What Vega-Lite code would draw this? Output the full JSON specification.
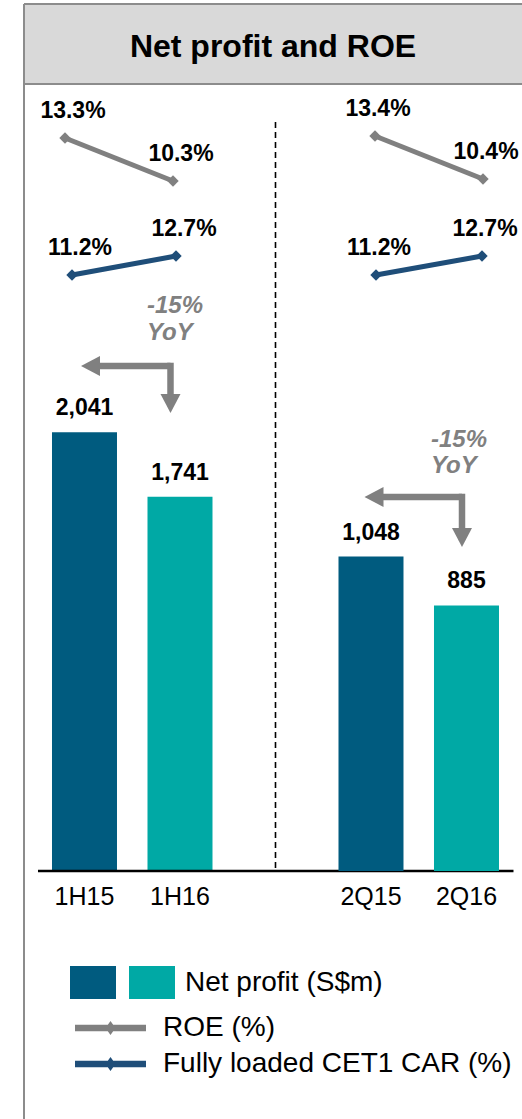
{
  "$schema": "https://vega.github.io/schema/vega-lite/v6.json",
  "padding": {"left": 24, "top": 4, "right": 0, "bottom": 0},
  "spacing": 0,
  "bounds": "flush",
  "config": {"font": "Liberation Sans", "view": {"stroke": null}},
  "data": {"values": [
    {"period": "1H15", "half": "1H", "year": "2015", "net_profit": 2041, "roe": 0.133, "cet1": 0.112, "yoy": null},
    {"period": "1H16", "half": "1H", "year": "2016", "net_profit": 1741, "roe": 0.103, "cet1": 0.127, "yoy": "-15%"},
    {"period": "2Q15", "half": "2Q", "year": "2015", "net_profit": 1048, "roe": 0.134, "cet1": 0.112, "yoy": null},
    {"period": "2Q16", "half": "2Q", "year": "2016", "net_profit": 885, "roe": 0.104, "cet1": 0.127, "yoy": "-15%"}
  ]},
  "vconcat": [
    {
      "width": 498, "height": 80,
      "view": {"fill": "#d9d9d9", "stroke": null},
      "data": {"values": [{"title": "Net profit and ROE"}]},
      "mark": {"type": "text", "fontSize": 32, "fontWeight": "bold", "color": "#000000", "align": "center", "baseline": "alphabetic", "dy": 13},
      "encoding": {
        "text": {"field": "title", "type": "nominal"},
        "x": {"datum": 0.5, "type": "quantitative", "scale": {"domain": [0, 1], "nice": false, "zero": false}, "axis": {"orient": "top", "domain": true, "domainColor": "#8c8c8c", "domainWidth": 2, "ticks": false, "labels": false, "grid": false, "title": null, "translate": 0}},
        "y": {"datum": 0.5, "type": "quantitative", "scale": {"domain": [0, 1], "nice": false, "zero": false}, "axis": {"orient": "left", "domain": true, "domainColor": "#8c8c8c", "domainWidth": 2, "ticks": false, "labels": false, "grid": false, "title": null, "translate": 0}}
      }
    },
    {
      "width": 498, "height": 1035,
      "resolve": {"scale": {"x": "independent", "y": "independent"}},
      "layer": [
        {
          "transform": [{"filter": "datum.half == '1H'"}],
          "layer": [
            {"mark": {"type": "bar"},
             "encoding": {
               "x": {"field": "period", "type": "nominal", "scale": {"type": "band", "domain": ["1H15", "1H16", "gap", "2Q15", "2Q16"], "paddingInner": 0.31937, "paddingOuter": 0.26702, "align": 0.5489}, "axis": {"orient": "top", "domain": true, "domainColor": "#8c8c8c", "domainWidth": 2, "ticks": false, "labels": false, "grid": false, "title": null, "translate": 0}},
               "y": {"field": "net_profit", "type": "quantitative", "scale": {"domain": [-1153.5, 3660.5], "nice": false, "zero": false}, "axis": {"orient": "left", "domain": true, "domainColor": "#8c8c8c", "domainWidth": 2, "ticks": false, "labels": false, "grid": false, "title": null, "translate": 0}},
               "y2": {"datum": 0},
               "color": {"field": "year", "type": "nominal", "scale": {"domain": ["2015", "2016"], "range": ["#005b7f", "#00a9a5"]},
                 "legend": {"orient": "none", "legendX": 46, "legendY": 955.5, "title": null, "direction": "horizontal", "symbolType": "M-1,-0.717H1V0.717H-1Z", "symbolSize": 2116, "symbolStrokeWidth": 0, "symbolOpacity": 1, "labelExpr": "datum.label == '2016' ? 'Net profit (S$m)' : ''", "labelFont": "Liberation Sans", "labelFontSize": 28, "labelColor": "#000000", "labelOffset": 10, "labelLimit": 500, "columnPadding": 3, "gridAlign": "none", "padding": 0, "offset": 0}}
             }},
            {"mark": {"type": "text", "fontSize": 23, "fontWeight": "bold", "color": "#000000", "baseline": "alphabetic", "dy": -17},
             "encoding": {
               "x": {"field": "period", "type": "nominal", "scale": {"type": "band", "domain": ["1H15", "1H16", "gap", "2Q15", "2Q16"], "paddingInner": 0.31937, "paddingOuter": 0.26702, "align": 0.5489}, "axis": {"orient": "top", "domain": true, "domainColor": "#8c8c8c", "domainWidth": 2, "ticks": false, "labels": false, "grid": false, "title": null, "translate": 0}},
               "y": {"field": "net_profit", "type": "quantitative", "scale": {"domain": [-1153.5, 3660.5], "nice": false, "zero": false}, "axis": {"orient": "left", "domain": true, "domainColor": "#8c8c8c", "domainWidth": 2, "ticks": false, "labels": false, "grid": false, "title": null, "translate": 0}},
               "text": {"field": "net_profit", "type": "quantitative", "format": ","}
             }},
            {"mark": {"type": "text", "fontSize": 25, "color": "#000000", "baseline": "alphabetic", "dy": 34},
             "encoding": {
               "x": {"field": "period", "type": "nominal", "scale": {"type": "band", "domain": ["1H15", "1H16", "gap", "2Q15", "2Q16"], "paddingInner": 0.31937, "paddingOuter": 0.26702, "align": 0.5489}, "axis": {"orient": "top", "domain": true, "domainColor": "#8c8c8c", "domainWidth": 2, "ticks": false, "labels": false, "grid": false, "title": null, "translate": 0}},
               "y": {"datum": 0, "type": "quantitative", "scale": {"domain": [-1153.5, 3660.5], "nice": false, "zero": false}, "axis": {"orient": "left", "domain": true, "domainColor": "#8c8c8c", "domainWidth": 2, "ticks": false, "labels": false, "grid": false, "title": null, "translate": 0}},
               "text": {"field": "period", "type": "nominal"}
             }},
            {"transform": [{"filter": "datum.year == '2015'"}],
             "mark": {"type": "rule", "color": "#000000", "strokeWidth": 2.7, "xOffset": -46.5, "x2Offset": 47},
             "encoding": {
               "x": {"datum": "1H15", "type": "nominal", "scale": {"type": "band", "domain": ["1H15", "1H16", "gap", "2Q15", "2Q16"], "paddingInner": 0.31937, "paddingOuter": 0.26702, "align": 0.5489}, "axis": {"orient": "top", "domain": true, "domainColor": "#8c8c8c", "domainWidth": 2, "ticks": false, "labels": false, "grid": false, "title": null, "translate": 0}},
               "x2": {"datum": "2Q16"},
               "y": {"datum": 0, "type": "quantitative", "scale": {"domain": [-1153.5, 3660.5], "nice": false, "zero": false}, "axis": {"orient": "left", "domain": true, "domainColor": "#8c8c8c", "domainWidth": 2, "ticks": false, "labels": false, "grid": false, "title": null, "translate": 0}}
             }},
            {"transform": [{"filter": "datum.year == '2015'"}],
             "mark": {"type": "rule", "color": "#000000", "strokeWidth": 1.6, "strokeDash": [6, 4]},
             "encoding": {
               "x": {"datum": "gap", "type": "nominal", "scale": {"type": "band", "domain": ["1H15", "1H16", "gap", "2Q15", "2Q16"], "paddingInner": 0.31937, "paddingOuter": 0.26702, "align": 0.5489}, "axis": {"orient": "top", "domain": true, "domainColor": "#8c8c8c", "domainWidth": 2, "ticks": false, "labels": false, "grid": false, "title": null, "translate": 0}},
               "y": {"datum": 3484, "type": "quantitative", "scale": {"domain": [-1153.5, 3660.5], "nice": false, "zero": false}, "axis": {"orient": "left", "domain": true, "domainColor": "#8c8c8c", "domainWidth": 2, "ticks": false, "labels": false, "grid": false, "title": null, "translate": 0}},
               "y2": {"datum": 14}
             }},
            {"transform": [{"filter": "datum.year == '2015'"}],
             "mark": {"type": "rule", "color": "#808080", "strokeWidth": 6.5, "xOffset": 10, "x2Offset": -9.5},
             "encoding": {
               "x": {"datum": "1H15", "type": "nominal", "scale": {"type": "band", "domain": ["1H15", "1H16", "gap", "2Q15", "2Q16"], "paddingInner": 0.31937, "paddingOuter": 0.26702, "align": 0.5489}, "axis": {"orient": "top", "domain": true, "domainColor": "#8c8c8c", "domainWidth": 2, "ticks": false, "labels": false, "grid": false, "title": null, "translate": 0}},
               "x2": {"datum": "1H16"},
               "y": {"datum": 2349, "type": "quantitative", "scale": {"domain": [-1153.5, 3660.5], "nice": false, "zero": false}, "axis": {"orient": "left", "domain": true, "domainColor": "#8c8c8c", "domainWidth": 2, "ticks": false, "labels": false, "grid": false, "title": null, "translate": 0}}
             }},
            {"transform": [{"filter": "datum.year == '2015'"}],
             "mark": {"type": "rule", "color": "#808080", "strokeWidth": 6.5, "strokeCap": "square", "xOffset": -9.5},
             "encoding": {
               "x": {"datum": "1H16", "type": "nominal", "scale": {"type": "band", "domain": ["1H15", "1H16", "gap", "2Q15", "2Q16"], "paddingInner": 0.31937, "paddingOuter": 0.26702, "align": 0.5489}, "axis": {"orient": "top", "domain": true, "domainColor": "#8c8c8c", "domainWidth": 2, "ticks": false, "labels": false, "grid": false, "title": null, "translate": 0}},
               "y": {"datum": 2349, "type": "quantitative", "scale": {"domain": [-1153.5, 3660.5], "nice": false, "zero": false}, "axis": {"orient": "left", "domain": true, "domainColor": "#8c8c8c", "domainWidth": 2, "ticks": false, "labels": false, "grid": false, "title": null, "translate": 0}},
               "y2": {"datum": 2177}
             }},
            {"transform": [{"filter": "datum.year == '2015'"}],
             "mark": {"type": "point", "filled": true, "color": "#808080", "opacity": 1, "size": 400, "shape": "M-0.35,0L1.55,-1L1.55,1Z"},
             "encoding": {
               "x": {"datum": "1H15", "type": "nominal", "scale": {"type": "band", "domain": ["1H15", "1H16", "gap", "2Q15", "2Q16"], "paddingInner": 0.31937, "paddingOuter": 0.26702, "align": 0.5489}, "axis": {"orient": "top", "domain": true, "domainColor": "#8c8c8c", "domainWidth": 2, "ticks": false, "labels": false, "grid": false, "title": null, "translate": 0}},
               "y": {"datum": 2349, "type": "quantitative", "scale": {"domain": [-1153.5, 3660.5], "nice": false, "zero": false}, "axis": {"orient": "left", "domain": true, "domainColor": "#8c8c8c", "domainWidth": 2, "ticks": false, "labels": false, "grid": false, "title": null, "translate": 0}}
             }},
            {"transform": [{"filter": "datum.year == '2015'"}],
             "mark": {"type": "point", "filled": true, "color": "#808080", "opacity": 1, "size": 400, "shape": "M0,1L-1,-0.9L1,-0.9Z", "xOffset": -9.5},
             "encoding": {
               "x": {"datum": "1H16", "type": "nominal", "scale": {"type": "band", "domain": ["1H15", "1H16", "gap", "2Q15", "2Q16"], "paddingInner": 0.31937, "paddingOuter": 0.26702, "align": 0.5489}, "axis": {"orient": "top", "domain": true, "domainColor": "#8c8c8c", "domainWidth": 2, "ticks": false, "labels": false, "grid": false, "title": null, "translate": 0}},
               "y": {"datum": 2177, "type": "quantitative", "scale": {"domain": [-1153.5, 3660.5], "nice": false, "zero": false}, "axis": {"orient": "left", "domain": true, "domainColor": "#8c8c8c", "domainWidth": 2, "ticks": false, "labels": false, "grid": false, "title": null, "translate": 0}}
             }},
            {"transform": [{"filter": "datum.yoy != null"}],
             "mark": {"type": "text", "fontSize": 24, "fontWeight": "bold", "fontStyle": "italic", "color": "#808080", "align": "left", "baseline": "alphabetic", "dx": -33},
             "encoding": {
               "x": {"field": "period", "type": "nominal", "scale": {"type": "band", "domain": ["1H15", "1H16", "gap", "2Q15", "2Q16"], "paddingInner": 0.31937, "paddingOuter": 0.26702, "align": 0.5489}, "axis": {"orient": "top", "domain": true, "domainColor": "#8c8c8c", "domainWidth": 2, "ticks": false, "labels": false, "grid": false, "title": null, "translate": 0}},
               "y": {"datum": 2595, "type": "quantitative", "scale": {"domain": [-1153.5, 3660.5], "nice": false, "zero": false}, "axis": {"orient": "left", "domain": true, "domainColor": "#8c8c8c", "domainWidth": 2, "ticks": false, "labels": false, "grid": false, "title": null, "translate": 0}},
               "text": {"field": "yoy", "type": "nominal"}
             }},
            {"transform": [{"filter": "datum.yoy != null"}],
             "mark": {"type": "text", "text": "YoY", "fontSize": 24, "fontWeight": "bold", "fontStyle": "italic", "color": "#808080", "align": "left", "baseline": "alphabetic", "dx": -33, "dy": 27},
             "encoding": {
               "x": {"field": "period", "type": "nominal", "scale": {"type": "band", "domain": ["1H15", "1H16", "gap", "2Q15", "2Q16"], "paddingInner": 0.31937, "paddingOuter": 0.26702, "align": 0.5489}, "axis": {"orient": "top", "domain": true, "domainColor": "#8c8c8c", "domainWidth": 2, "ticks": false, "labels": false, "grid": false, "title": null, "translate": 0}},
               "y": {"datum": 2595, "type": "quantitative", "scale": {"domain": [-1153.5, 3660.5], "nice": false, "zero": false}, "axis": {"orient": "left", "domain": true, "domainColor": "#8c8c8c", "domainWidth": 2, "ticks": false, "labels": false, "grid": false, "title": null, "translate": 0}}
             }}
          ]
        },
        {
          "transform": [{"filter": "datum.half == '2Q'"}],
          "layer": [
            {"mark": {"type": "bar"},
             "encoding": {
               "x": {"field": "period", "type": "nominal", "scale": {"type": "band", "domain": ["1H15", "1H16", "gap", "2Q15", "2Q16"], "paddingInner": 0.31937, "paddingOuter": 0.26702, "align": 0.5489}, "axis": null},
               "y": {"field": "net_profit", "type": "quantitative", "scale": {"domain": [-826.7, 2623.3], "nice": false, "zero": false}, "axis": null},
               "y2": {"datum": 0},
               "color": {"field": "year", "type": "nominal", "scale": {"domain": ["2015", "2016"], "range": ["#005b7f", "#00a9a5"]},
                 "legend": {"orient": "none", "legendX": 46, "legendY": 955.5, "title": null, "direction": "horizontal", "symbolType": "M-1,-0.717H1V0.717H-1Z", "symbolSize": 2116, "symbolStrokeWidth": 0, "symbolOpacity": 1, "labelExpr": "datum.label == '2016' ? 'Net profit (S$m)' : ''", "labelFont": "Liberation Sans", "labelFontSize": 28, "labelColor": "#000000", "labelOffset": 10, "labelLimit": 500, "columnPadding": 3, "gridAlign": "none", "padding": 0, "offset": 0}}
             }},
            {"mark": {"type": "text", "fontSize": 23, "fontWeight": "bold", "color": "#000000", "baseline": "alphabetic", "dy": -17},
             "encoding": {
               "x": {"field": "period", "type": "nominal", "scale": {"type": "band", "domain": ["1H15", "1H16", "gap", "2Q15", "2Q16"], "paddingInner": 0.31937, "paddingOuter": 0.26702, "align": 0.5489}, "axis": null},
               "y": {"field": "net_profit", "type": "quantitative", "scale": {"domain": [-826.7, 2623.3], "nice": false, "zero": false}, "axis": null},
               "text": {"field": "net_profit", "type": "quantitative", "format": ","}
             }},
            {"mark": {"type": "text", "fontSize": 25, "color": "#000000", "baseline": "alphabetic", "dy": 34},
             "encoding": {
               "x": {"field": "period", "type": "nominal", "scale": {"type": "band", "domain": ["1H15", "1H16", "gap", "2Q15", "2Q16"], "paddingInner": 0.31937, "paddingOuter": 0.26702, "align": 0.5489}, "axis": null},
               "y": {"datum": 0, "type": "quantitative", "scale": {"domain": [-826.7, 2623.3], "nice": false, "zero": false}, "axis": null},
               "text": {"field": "period", "type": "nominal"}
             }},
            {"transform": [{"filter": "datum.year == '2015'"}],
             "mark": {"type": "rule", "color": "#808080", "strokeWidth": 6.5, "xOffset": 10, "x2Offset": -4.5},
             "encoding": {
               "x": {"datum": "2Q15", "type": "nominal", "scale": {"type": "band", "domain": ["1H15", "1H16", "gap", "2Q15", "2Q16"], "paddingInner": 0.31937, "paddingOuter": 0.26702, "align": 0.5489}, "axis": null},
               "x2": {"datum": "2Q16"},
               "y": {"datum": 1246.7, "type": "quantitative", "scale": {"domain": [-826.7, 2623.3], "nice": false, "zero": false}, "axis": null}
             }},
            {"transform": [{"filter": "datum.year == '2015'"}],
             "mark": {"type": "rule", "color": "#808080", "strokeWidth": 6.5, "strokeCap": "square", "xOffset": -4.5},
             "encoding": {
               "x": {"datum": "2Q16", "type": "nominal", "scale": {"type": "band", "domain": ["1H15", "1H16", "gap", "2Q15", "2Q16"], "paddingInner": 0.31937, "paddingOuter": 0.26702, "align": 0.5489}, "axis": null},
               "y": {"datum": 1246.7, "type": "quantitative", "scale": {"domain": [-826.7, 2623.3], "nice": false, "zero": false}, "axis": null},
               "y2": {"datum": 1113.3}
             }},
            {"transform": [{"filter": "datum.year == '2015'"}],
             "mark": {"type": "point", "filled": true, "color": "#808080", "opacity": 1, "size": 400, "shape": "M-0.65,0L1.25,-1L1.25,1Z"},
             "encoding": {
               "x": {"datum": "2Q15", "type": "nominal", "scale": {"type": "band", "domain": ["1H15", "1H16", "gap", "2Q15", "2Q16"], "paddingInner": 0.31937, "paddingOuter": 0.26702, "align": 0.5489}, "axis": null},
               "y": {"datum": 1246.7, "type": "quantitative", "scale": {"domain": [-826.7, 2623.3], "nice": false, "zero": false}, "axis": null}
             }},
            {"transform": [{"filter": "datum.year == '2015'"}],
             "mark": {"type": "point", "filled": true, "color": "#808080", "opacity": 1, "size": 400, "shape": "M0,1L-1,-0.9L1,-0.9Z", "xOffset": -4.5},
             "encoding": {
               "x": {"datum": "2Q16", "type": "nominal", "scale": {"type": "band", "domain": ["1H15", "1H16", "gap", "2Q15", "2Q16"], "paddingInner": 0.31937, "paddingOuter": 0.26702, "align": 0.5489}, "axis": null},
               "y": {"datum": 1113.3, "type": "quantitative", "scale": {"domain": [-826.7, 2623.3], "nice": false, "zero": false}, "axis": null}
             }},
            {"transform": [{"filter": "datum.yoy != null"}],
             "mark": {"type": "text", "fontSize": 24, "fontWeight": "bold", "fontStyle": "italic", "color": "#808080", "align": "left", "baseline": "alphabetic", "dx": -35.5},
             "encoding": {
               "x": {"field": "period", "type": "nominal", "scale": {"type": "band", "domain": ["1H15", "1H16", "gap", "2Q15", "2Q16"], "paddingInner": 0.31937, "paddingOuter": 0.26702, "align": 0.5489}, "axis": null},
               "y": {"datum": 1413.3, "type": "quantitative", "scale": {"domain": [-826.7, 2623.3], "nice": false, "zero": false}, "axis": null},
               "text": {"field": "yoy", "type": "nominal"}
             }},
            {"transform": [{"filter": "datum.yoy != null"}],
             "mark": {"type": "text", "text": "YoY", "fontSize": 24, "fontWeight": "bold", "fontStyle": "italic", "color": "#808080", "align": "left", "baseline": "alphabetic", "dx": -35.5, "dy": 26},
             "encoding": {
               "x": {"field": "period", "type": "nominal", "scale": {"type": "band", "domain": ["1H15", "1H16", "gap", "2Q15", "2Q16"], "paddingInner": 0.31937, "paddingOuter": 0.26702, "align": 0.5489}, "axis": null},
               "y": {"datum": 1413.3, "type": "quantitative", "scale": {"domain": [-826.7, 2623.3], "nice": false, "zero": false}, "axis": null}
             }}
          ]
        },
        {
          "transform": [{"filter": "datum.half == '1H'"}],
          "encoding": {
            "x": {"field": "period", "type": "nominal", "scale": {"type": "point", "domain": ["1H15", "1H16", "gap", "2Q15", "2Q16"], "padding": 0.30556, "align": 0.6212}, "axis": null},
            "y": {"field": "roe", "type": "quantitative", "scale": {"domain": [-0.551419, 0.170674], "nice": false, "zero": false}, "axis": null}
          },
          "layer": [
            {"mark": {"type": "line", "color": "#808080", "strokeWidth": 5}},
            {"mark": {"type": "point", "filled": true, "opacity": 1, "size": 130, "shape": "diamond"},
             "encoding": {"fill": {"datum": "ROE (%)", "type": "nominal", "scale": {"domain": ["ROE (%)", "Fully loaded CET1 CAR (%)"], "range": ["#808080", "#1f4e79"]},
               "legend": {"orient": "none", "legendX": 64.5, "legendY": 1002, "title": null, "direction": "vertical", "symbolType": "M-1.6136,-0.152H1.6136V0.152H-1.6136Z M0,-0.318L0.227,0L0,0.318L-0.227,0Z", "symbolSize": 1936, "symbolStrokeWidth": 0, "symbolOpacity": 1, "labelFont": "Liberation Sans", "labelFontSize": 28, "labelColor": "#000000", "labelOffset": 30.5, "labelLimit": 500, "rowPadding": 0, "padding": 0, "offset": 0}}}},
            {"mark": {"type": "text", "fontSize": 23, "fontWeight": "bold", "color": "#000000", "baseline": "alphabetic", "dx": 8, "dy": -20},
             "encoding": {"text": {"field": "roe", "type": "quantitative", "format": ".1%"}}}
          ]
        },
        {
          "transform": [{"filter": "datum.half == '2Q'"}],
          "encoding": {
            "x": {"field": "period", "type": "nominal", "scale": {"type": "point", "domain": ["1H15", "1H16", "gap", "2Q15", "2Q16"], "padding": 0.30556, "align": 0.4091}, "axis": null},
            "y": {"field": "roe", "type": "quantitative", "scale": {"domain": [-0.551814, 0.170279], "nice": false, "zero": false}, "axis": null}
          },
          "layer": [
            {"mark": {"type": "line", "color": "#808080", "strokeWidth": 5}},
            {"mark": {"type": "point", "filled": true, "opacity": 1, "size": 130, "shape": "diamond"},
             "encoding": {"fill": {"datum": "ROE (%)", "type": "nominal", "scale": {"domain": ["ROE (%)", "Fully loaded CET1 CAR (%)"], "range": ["#808080", "#1f4e79"]},
               "legend": {"orient": "none", "legendX": 64.5, "legendY": 1002, "title": null, "direction": "vertical", "symbolType": "M-1.6136,-0.152H1.6136V0.152H-1.6136Z M0,-0.318L0.227,0L0,0.318L-0.227,0Z", "symbolSize": 1936, "symbolStrokeWidth": 0, "symbolOpacity": 1, "labelFont": "Liberation Sans", "labelFontSize": 28, "labelColor": "#000000", "labelOffset": 30.5, "labelLimit": 500, "rowPadding": 0, "padding": 0, "offset": 0}}}},
            {"mark": {"type": "text", "fontSize": 23, "fontWeight": "bold", "color": "#000000", "baseline": "alphabetic", "dx": 3, "dy": -20},
             "encoding": {"text": {"field": "roe", "type": "quantitative", "format": ".1%"}}}
          ]
        },
        {
          "transform": [{"filter": "datum.half == '1H'"}],
          "encoding": {
            "x": {"field": "period", "type": "nominal", "scale": {"type": "point", "domain": ["1H15", "1H16", "gap", "2Q15", "2Q16"], "padding": 0.39423, "align": 0.5854}, "axis": null},
            "y": {"field": "cet1", "type": "quantitative", "scale": {"domain": [-0.554316, 0.262789], "nice": false, "zero": false}, "axis": null}
          },
          "layer": [
            {"mark": {"type": "line", "color": "#1f4e79", "strokeWidth": 5}},
            {"mark": {"type": "point", "filled": true, "opacity": 1, "size": 130, "shape": "diamond"},
             "encoding": {"fill": {"datum": "Fully loaded CET1 CAR (%)", "type": "nominal", "scale": {"domain": ["ROE (%)", "Fully loaded CET1 CAR (%)"], "range": ["#808080", "#1f4e79"]},
               "legend": {"orient": "none", "legendX": 64.5, "legendY": 1002, "title": null, "direction": "vertical", "symbolType": "M-1.6136,-0.152H1.6136V0.152H-1.6136Z M0,-0.318L0.227,0L0,0.318L-0.227,0Z", "symbolSize": 1936, "symbolStrokeWidth": 0, "symbolOpacity": 1, "labelFont": "Liberation Sans", "labelFontSize": 28, "labelColor": "#000000", "labelOffset": 30.5, "labelLimit": 500, "rowPadding": 0, "padding": 0, "offset": 0}}}},
            {"mark": {"type": "text", "fontSize": 23, "fontWeight": "bold", "color": "#000000", "baseline": "alphabetic", "dx": 8, "dy": -20},
             "encoding": {"text": {"field": "cet1", "type": "quantitative", "format": ".1%"}}}
          ]
        },
        {
          "transform": [{"filter": "datum.half == '2Q'"}],
          "encoding": {
            "x": {"field": "period", "type": "nominal", "scale": {"type": "point", "domain": ["1H15", "1H16", "gap", "2Q15", "2Q16"], "padding": 0.34906, "align": 0.4595}, "axis": null},
            "y": {"field": "cet1", "type": "quantitative", "scale": {"domain": [-0.554316, 0.262789], "nice": false, "zero": false}, "axis": null}
          },
          "layer": [
            {"mark": {"type": "line", "color": "#1f4e79", "strokeWidth": 5}},
            {"mark": {"type": "point", "filled": true, "opacity": 1, "size": 130, "shape": "diamond"},
             "encoding": {"fill": {"datum": "Fully loaded CET1 CAR (%)", "type": "nominal", "scale": {"domain": ["ROE (%)", "Fully loaded CET1 CAR (%)"], "range": ["#808080", "#1f4e79"]},
               "legend": {"orient": "none", "legendX": 64.5, "legendY": 1002, "title": null, "direction": "vertical", "symbolType": "M-1.6136,-0.152H1.6136V0.152H-1.6136Z M0,-0.318L0.227,0L0,0.318L-0.227,0Z", "symbolSize": 1936, "symbolStrokeWidth": 0, "symbolOpacity": 1, "labelFont": "Liberation Sans", "labelFontSize": 28, "labelColor": "#000000", "labelOffset": 30.5, "labelLimit": 500, "rowPadding": 0, "padding": 0, "offset": 0}}}},
            {"mark": {"type": "text", "fontSize": 23, "fontWeight": "bold", "color": "#000000", "baseline": "alphabetic", "dx": 3, "dy": -20},
             "encoding": {"text": {"field": "cet1", "type": "quantitative", "format": ".1%"}}}
          ]
        }
      ]
    }
  ]
}
